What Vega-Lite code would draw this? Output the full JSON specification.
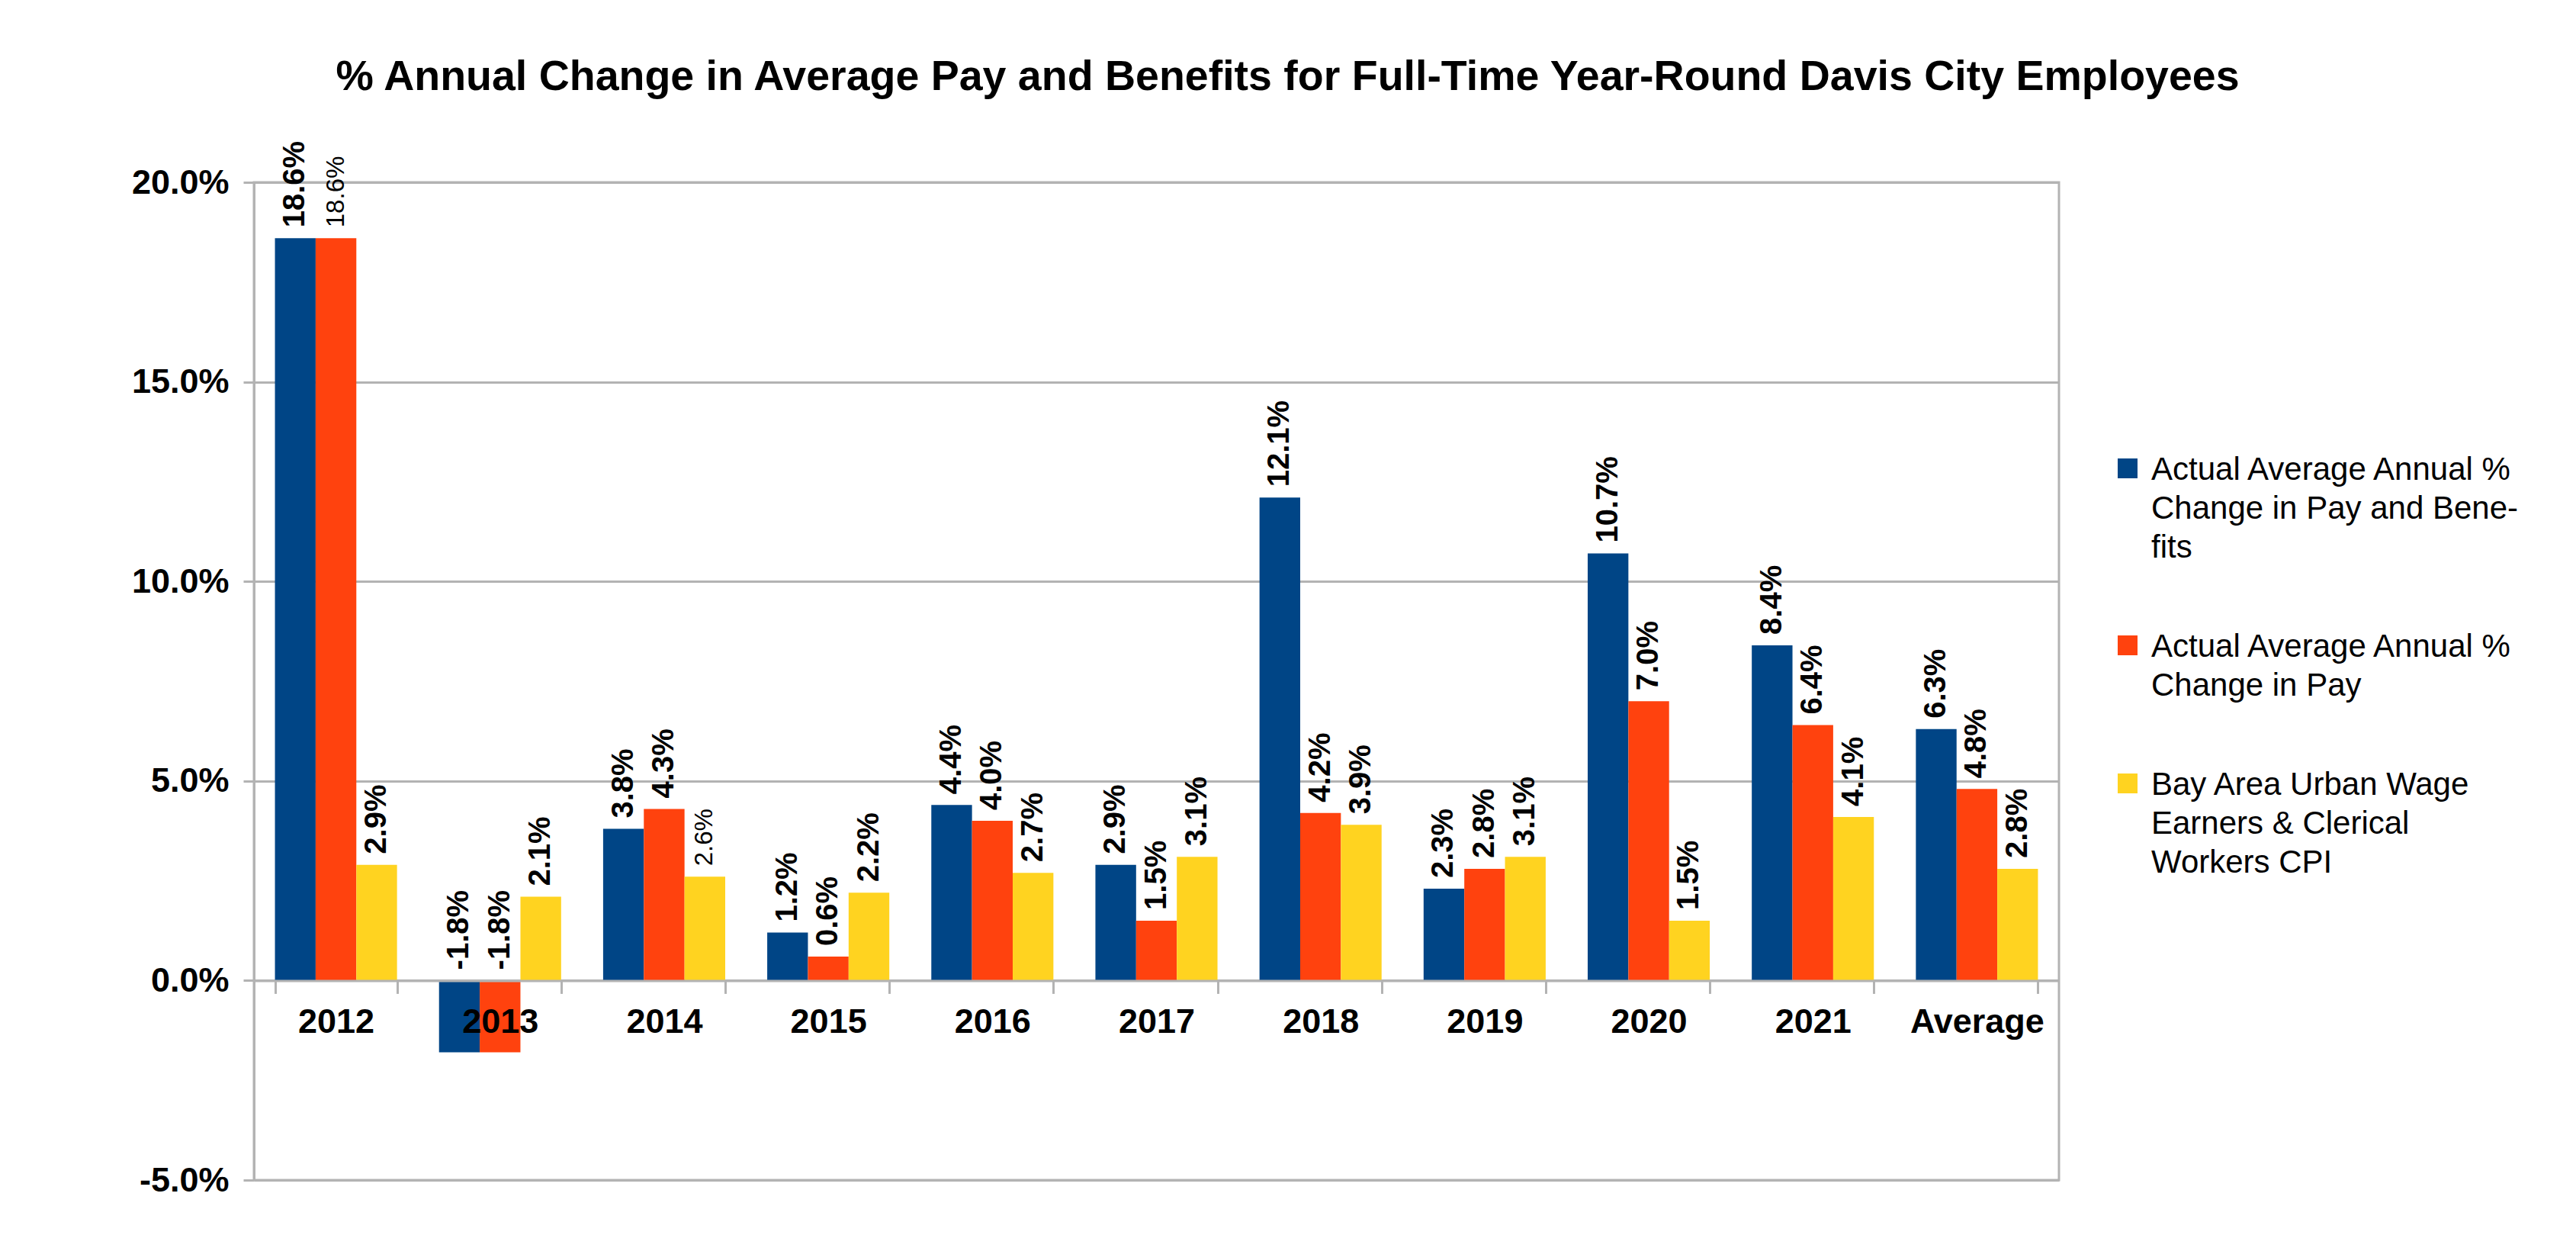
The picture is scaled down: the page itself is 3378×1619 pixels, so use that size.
{
  "$schema": "https://vega.github.io/schema/vega-lite/v6.json",
  "width": 2367,
  "height": 1308,
  "autosize": {"type": "none"},
  "padding": {"left": 333, "top": 239, "right": 678, "bottom": 72},
  "background": "white",
  "config": {
    "view": {"stroke": "#b3b3b3", "strokeWidth": 3},
    "font": "Liberation Sans"
  },
  "title": {
    "text": "% Annual Change in Average Pay and Benefits for Full-Time Year-Round Davis City Employees",
    "font": "Liberation Sans",
    "fontSize": 55.5,
    "fontWeight": "bold",
    "color": "black",
    "anchor": "middle",
    "frame": "group",
    "dx": 172,
    "baseline": "alphabetic",
    "offset": 11
  },
  "data": {
    "values": [
      {"year": "2012", "series": "Actual Average Annual % Change in Pay and Benefits", "v": 0.186},
      {"year": "2012", "series": "Actual Average Annual % Change in Pay", "v": 0.186},
      {"year": "2012", "series": "Bay Area Urban Wage Earners & Clerical Workers CPI", "v": 0.029},
      {"year": "2013", "series": "Actual Average Annual % Change in Pay and Benefits", "v": -0.018},
      {"year": "2013", "series": "Actual Average Annual % Change in Pay", "v": -0.018},
      {"year": "2013", "series": "Bay Area Urban Wage Earners & Clerical Workers CPI", "v": 0.021},
      {"year": "2014", "series": "Actual Average Annual % Change in Pay and Benefits", "v": 0.038},
      {"year": "2014", "series": "Actual Average Annual % Change in Pay", "v": 0.043},
      {"year": "2014", "series": "Bay Area Urban Wage Earners & Clerical Workers CPI", "v": 0.026},
      {"year": "2015", "series": "Actual Average Annual % Change in Pay and Benefits", "v": 0.012},
      {"year": "2015", "series": "Actual Average Annual % Change in Pay", "v": 0.006},
      {"year": "2015", "series": "Bay Area Urban Wage Earners & Clerical Workers CPI", "v": 0.022},
      {"year": "2016", "series": "Actual Average Annual % Change in Pay and Benefits", "v": 0.044},
      {"year": "2016", "series": "Actual Average Annual % Change in Pay", "v": 0.040},
      {"year": "2016", "series": "Bay Area Urban Wage Earners & Clerical Workers CPI", "v": 0.027},
      {"year": "2017", "series": "Actual Average Annual % Change in Pay and Benefits", "v": 0.029},
      {"year": "2017", "series": "Actual Average Annual % Change in Pay", "v": 0.015},
      {"year": "2017", "series": "Bay Area Urban Wage Earners & Clerical Workers CPI", "v": 0.031},
      {"year": "2018", "series": "Actual Average Annual % Change in Pay and Benefits", "v": 0.121},
      {"year": "2018", "series": "Actual Average Annual % Change in Pay", "v": 0.042},
      {"year": "2018", "series": "Bay Area Urban Wage Earners & Clerical Workers CPI", "v": 0.039},
      {"year": "2019", "series": "Actual Average Annual % Change in Pay and Benefits", "v": 0.023},
      {"year": "2019", "series": "Actual Average Annual % Change in Pay", "v": 0.028},
      {"year": "2019", "series": "Bay Area Urban Wage Earners & Clerical Workers CPI", "v": 0.031},
      {"year": "2020", "series": "Actual Average Annual % Change in Pay and Benefits", "v": 0.107},
      {"year": "2020", "series": "Actual Average Annual % Change in Pay", "v": 0.070},
      {"year": "2020", "series": "Bay Area Urban Wage Earners & Clerical Workers CPI", "v": 0.015},
      {"year": "2021", "series": "Actual Average Annual % Change in Pay and Benefits", "v": 0.084},
      {"year": "2021", "series": "Actual Average Annual % Change in Pay", "v": 0.064},
      {"year": "2021", "series": "Bay Area Urban Wage Earners & Clerical Workers CPI", "v": 0.041},
      {"year": "Average", "series": "Actual Average Annual % Change in Pay and Benefits", "v": 0.063},
      {"year": "Average", "series": "Actual Average Annual % Change in Pay", "v": 0.048},
      {"year": "Average", "series": "Bay Area Urban Wage Earners & Clerical Workers CPI", "v": 0.028}
    ]
  },
  "encoding": {
    "x": {
      "field": "year",
      "type": "nominal",
      "sort": null,
      "scale": {"paddingInner": 0.256, "paddingOuter": 0.128},
      "axis": {
        "title": null,
        "orient": "bottom",
        "offset": -261.6,
        "tickBand": "extent",
        "tickSize": 17,
        "tickColor": "#b3b3b3",
        "tickWidth": 3,
        "domainColor": "#b3b3b3",
        "domainWidth": 3,
        "labelAngle": 0,
        "labelFont": "Liberation Sans",
        "labelFontSize": 45,
        "labelFontWeight": "bold",
        "labelColor": "black",
        "labelPadding": 15,
        "labelBaseline": "top",
        "zindex": 1
      }
    },
    "xOffset": {
      "field": "series",
      "type": "nominal",
      "sort": ["Actual Average Annual % Change in Pay and Benefits", "Actual Average Annual % Change in Pay", "Bay Area Urban Wage Earners & Clerical Workers CPI"]
    },
    "y": {
      "field": "v",
      "type": "quantitative",
      "scale": {"domain": [-0.05, 0.2], "nice": false, "zero": false},
      "axis": {
        "title": null,
        "values": [-0.05, 0, 0.05, 0.1, 0.15, 0.2],
        "labelExpr": "replace(format(datum.value, '.1%'), '−', '-')",
        "grid": true,
        "gridColor": "#b3b3b3",
        "gridWidth": 3,
        "domainColor": "#b3b3b3",
        "domainWidth": 3,
        "tickColor": "#b3b3b3",
        "tickWidth": 3,
        "tickSize": 14,
        "labelFont": "Liberation Sans",
        "labelFontSize": 45,
        "labelFontWeight": "bold",
        "labelColor": "black",
        "labelPadding": 19
      }
    }
  },
  "layer": [
    {
      "mark": {"type": "bar"},
      "encoding": {
        "color": {
          "field": "series",
          "type": "nominal",
          "scale": {
            "domain": ["Actual Average Annual % Change in Pay and Benefits", "Actual Average Annual % Change in Pay", "Bay Area Urban Wage Earners & Clerical Workers CPI"],
            "range": ["#004586", "#ff420e", "#ffd320"]
          },
          "legend": {
            "orient": "none",
            "legendX": 2436,
            "legendY": 354,
            "title": null,
            "symbolType": "square",
            "symbolSize": 676,
            "symbolStrokeWidth": 0,
            "symbolOpacity": 1,
            "labelFont": "Liberation Sans",
            "labelFontSize": 42,
            "labelColor": "black",
            "labelLimit": 1000,
            "labelBaseline": "top",
            "labelOffset": 10,
            "rowPadding": 86,
            "padding": 0,
            "labelExpr": "datum.label === 'Actual Average Annual % Change in Pay and Benefits' ? ['Actual Average Annual %', 'Change in Pay and Bene-', 'fits'] : datum.label === 'Actual Average Annual % Change in Pay' ? ['Actual Average Annual %', 'Change in Pay'] : ['Bay Area Urban Wage', 'Earners & Clerical', 'Workers CPI']",
            "encode": {
              "labels": {"update": {"lineHeight": {"value": 51}, "dy": {"value": -18}}}
            }
          }
        }
      }
    },
    {
      "transform": [
        {"filter": "datum.v >= 0 && !((datum.year === '2012' && datum.series === 'Actual Average Annual % Change in Pay') || (datum.year === '2014' && datum.series === 'Bay Area Urban Wage Earners & Clerical Workers CPI'))"}
      ],
      "mark": {
        "type": "text",
        "angle": 270,
        "align": "left",
        "baseline": "middle",
        "dx": 14,
        "font": "Liberation Sans",
        "fontSize": 40,
        "fontWeight": "bold",
        "color": "black"
      },
      "encoding": {
        "text": {"field": "v", "type": "quantitative", "format": ".1%"}
      }
    },
    {
      "transform": [
        {"filter": "(datum.year === '2012' && datum.series === 'Actual Average Annual % Change in Pay') || (datum.year === '2014' && datum.series === 'Bay Area Urban Wage Earners & Clerical Workers CPI')"}
      ],
      "mark": {
        "type": "text",
        "angle": 270,
        "align": "left",
        "baseline": "middle",
        "dx": 14,
        "font": "Liberation Sans",
        "fontSize": 33,
        "fontWeight": "normal",
        "color": "black"
      },
      "encoding": {
        "text": {"field": "v", "type": "quantitative", "format": ".1%"}
      }
    },
    {
      "transform": [
        {"filter": "datum.v < 0"}
      ],
      "mark": {
        "type": "text",
        "angle": 270,
        "align": "left",
        "baseline": "middle",
        "dx": 14,
        "font": "Liberation Sans",
        "fontSize": 40,
        "fontWeight": "bold",
        "color": "black",
        "text": {"expr": "replace(format(datum.v, '.1%'), '−', '-')"}
      },
      "encoding": {
        "y": {"datum": 0}
      }
    }
  ]
}
